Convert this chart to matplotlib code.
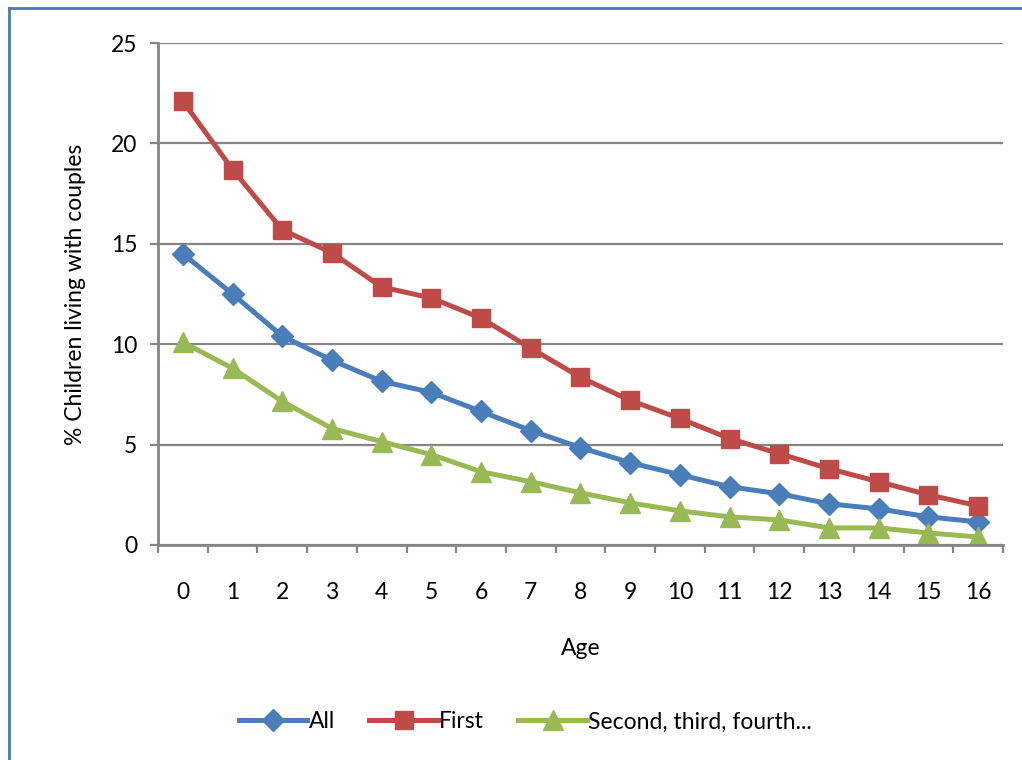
import matplotlib.pyplot as plt
import numpy as np

# data
ages = list(range(17))
all_children = [14.5, 12.5, 10.4, 9.2, 8.15, 7.6, 6.65, 5.7, 4.85, 4.1, 3.5, 2.9, 2.55, 2.05, 1.8, 1.4, 1.15]
first_born = [22.1, 18.7, 15.7, 14.55, 12.85, 12.3, 11.3, 9.8, 8.35, 7.2, 6.3, 5.3, 4.55, 3.8, 3.15, 2.5, 1.95]
later_born = [10.1, 8.8, 7.15, 5.8, 5.15, 4.5, 3.65, 3.15, 2.6, 2.1, 1.7, 1.4, 1.25, 0.85, 0.85, 0.6, 0.4]
y_ticks = [0, 5, 10, 15, 20, 25]

plt.rcParams['font.family'] = ['Lato', 'DejaVu Sans']
fig = plt.figure(figsize=(10.22, 7.6), dpi=100)
ax = fig.add_axes([0.1546, 0.2829, 0.8268, 0.6605])

grey = '#858585'
ax.plot(ages, all_children, color='#4A7EBB', lw=3.6, marker='D', ms=11, label='All')
ax.plot(ages, first_born, color='#BE4B48', lw=3.6, marker='s', ms=13, label='First')
ax.plot(ages, later_born, color='#98B954', lw=3.6, marker='^', ms=14, label='Second, third, fourth...')

ax.set_xlim(-0.5, 16.5)
ax.set_ylim(0, 25)
ax.set_yticks(y_ticks)
ax.set_xticks(ages)
ax.set_xticks(np.arange(-0.5, 17, 1), minor=True)
ax.tick_params(axis='x', which='major', length=0, pad=27, labelsize=16.5)
ax.tick_params(axis='x', which='minor', length=6, width=1.6, color=grey)
ax.tick_params(axis='y', length=6, width=1.6, color=grey, labelsize=16.5, pad=9)
ax.grid(axis='y', color=grey, lw=1.6)
ax.set_axisbelow(True)
for side in ['top', 'right']:
    ax.spines[side].set_visible(False)
for side in ['left', 'bottom']:
    ax.spines[side].set_color(grey)
    ax.spines[side].set_linewidth(2)

ax.set_xlabel('Age', fontsize=16.5, labelpad=25)
ax.set_ylabel('% Children living with couples', fontsize=16.5, labelpad=18)

fig.legend(loc='center', bbox_to_anchor=(0.514, 0.05), ncol=3, frameon=False,
           fontsize=16.5, handlelength=3.0, columnspacing=1.5, handletextpad=0.05)

# chart border (top and left edges visible in the reference)
fig.add_artist(plt.Line2D([0.009, 0.009], [0, 0.99], color='#4F75AD', lw=2, transform=fig.transFigure))
fig.add_artist(plt.Line2D([0.009, 1.0], [0.99, 0.99], color='#4F75AD', lw=2, transform=fig.transFigure))

fig.savefig('out.png', dpi=100)
